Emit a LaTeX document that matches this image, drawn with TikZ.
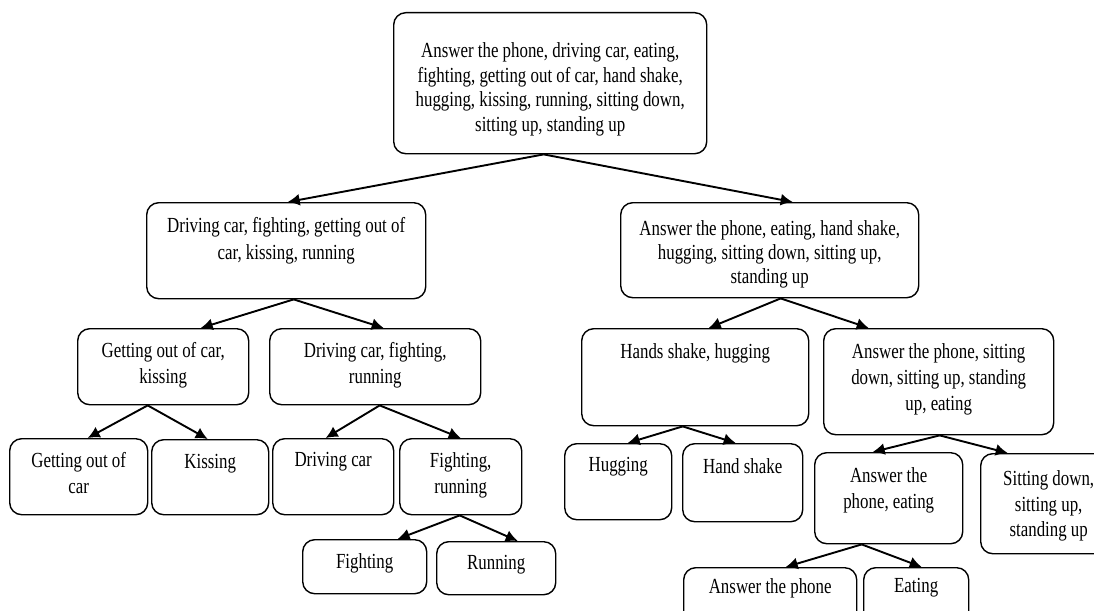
\documentclass[tikz,border=0pt]{standalone}
\usepackage{fontspec}
\setmainfont[FakeStretch=0.785]{Liberation Serif}
\usepackage{tikz}
\usetikzlibrary{arrows.meta,positioning,calc}
% box text: [baselineskip]{width}{height}{top pad}{text}
\newcommand{\celltxt}[5][26pt]{\parbox[c][#3][t]{#2}{\centering\fontsize{21.5pt}{#1}\selectfont\vspace*{#4}#5\par}}
\tikzstyle{cellbox} = [draw, line width=1.4pt, rounded corners=12pt, inner sep=0pt, anchor=north west]
\tikzstyle{link} = [-{Latex[length=12pt,width=12pt]}, line width=1.9pt]

\begin{document}
\begin{tikzpicture}[x=1pt,y=-1pt]
	\useasboundingbox (0,0) rectangle (1094,610);
	% level 1
	\node[cellbox] (root) at (393,12) {\celltxt[24.5pt]{313pt}{141pt}{30pt}{Answer the phone, driving car, eating,\\ fighting, getting out of car, hand shake,\\ hugging, kissing, running, sitting down,\\ sitting up, standing up}};
	% level 2
	\node[cellbox] (left) at (146,202) {\celltxt[27pt]{279pt}{96pt}{15pt}{Driving car, fighting, getting out of\\ car, kissing, running}};
	\node[cellbox] (right) at (620,202) {\celltxt[24pt]{298pt}{95pt}{18pt}{Answer the phone, eating, hand shake,\\ hugging, sitting down, sitting up,\\ standing up}};
	% level 3
	\node[cellbox] (getkiss) at (77,328) {\celltxt{171pt}{76pt}{14pt}{Getting out of car,\\ kissing}};
	\node[cellbox] (drivefightrun) at (269,328) {\celltxt{211pt}{76pt}{14pt}{Driving car, fighting,\\ running}};
	\node[cellbox] (handhug) at (581,328) {\celltxt{227pt}{97pt}{15pt}{Hands shake, hugging}};
	\node[cellbox] (phonesit) at (823,328) {\celltxt{230pt}{106pt}{15pt}{Answer the phone, sitting\\ down, sitting up, standing\\ up, eating}};
	% level 4
	\node[cellbox] (getout) at (9,438) {\celltxt{138pt}{76pt}{14pt}{Getting out of\\ car}};
	\node[cellbox] (kiss) at (151,439) {\celltxt{117pt}{75pt}{15pt}{Kissing}};
	\node[cellbox] (drive) at (272,438) {\celltxt{121pt}{76pt}{14pt}{Driving car}};
	\node[cellbox] (fightrun) at (399,438) {\celltxt{122pt}{76pt}{14pt}{Fighting,\\ running}};
	\node[cellbox] (hug) at (564,443) {\celltxt{107pt}{76pt}{14pt}{Hugging}};
	\node[cellbox] (hand) at (682,443) {\celltxt{120pt}{78pt}{15pt}{Hand shake}};
	\node[cellbox] (phoneeat) at (814,452) {\celltxt{148pt}{91pt}{15pt}{Answer the\\ phone, eating}};
	\node[cellbox] (sitstand) at (980,453) {\celltxt[25.5pt]{136pt}{100pt}{17pt}{Sitting down,\\ sitting up,\\ standing up}};
	% level 5
	\node[cellbox] (fight) at (302,539) {\celltxt{124pt}{54pt}{14pt}{Fighting}};
	\node[cellbox] (run) at (436,541) {\celltxt{119pt}{53pt}{14pt}{Running}};
	\node[cellbox] (phone) at (683,567) {\celltxt{173pt}{56pt}{11pt}{Answer the phone}};
	\node[cellbox] (eat) at (863,567) {\celltxt{105pt}{56pt}{11pt}{Eating}};

	% arrows
	\draw[link] ([xshift=-6.5pt]root.south) -- ([xshift=1.5pt]left.north);
	\draw[link] ([xshift=-6.5pt]root.south) -- ([xshift=23pt]right.north);
	\draw[link] ([xshift=7.5pt]left.south) -- ([xshift=37.5pt]getkiss.north);
	\draw[link] ([xshift=7.5pt]left.south) -- ([xshift=8.5pt]drivefightrun.north);
	\draw[link] ([xshift=-15.5pt]getkiss.south) -- ([xshift=9pt]getout.north);
	\draw[link] ([xshift=-15.5pt]getkiss.south) -- ([xshift=-2.5pt]kiss.north);
	\draw[link] ([xshift=4.5pt]drivefightrun.south) -- ([xshift=-7.5pt]drive.north);
	\draw[link] ([xshift=4.5pt]drivefightrun.south) -- (fightrun.north);
	\draw[link] ([xshift=-1pt]fightrun.south) -- ([xshift=33pt]fight.north);
	\draw[link] ([xshift=-1pt]fightrun.south) -- ([xshift=21.5pt]run.north);
	\draw[link] ([xshift=11pt]right.south) -- ([xshift=13.5pt]handhug.north);
	\draw[link] ([xshift=11pt]right.south) -- ([xshift=-70pt]phonesit.north);
	\draw[link] ([xshift=-12.5pt]handhug.south) -- ([xshift=9.5pt]hug.north);
	\draw[link] ([xshift=-12.5pt]handhug.south) -- ([xshift=-7pt]hand.north);
	\draw[link] ([xshift=1pt]phonesit.south) -- ([xshift=-16pt]phoneeat.north);
	\draw[link] ([xshift=1pt]phonesit.south) -- ([xshift=-41pt]sitstand.north);
	\draw[link] ([xshift=-27pt]phoneeat.south) -- ([xshift=15.5pt]phone.north);
	\draw[link] ([xshift=-27pt]phoneeat.south) -- ([xshift=5.5pt]eat.north);
\end{tikzpicture}
\end{document}
